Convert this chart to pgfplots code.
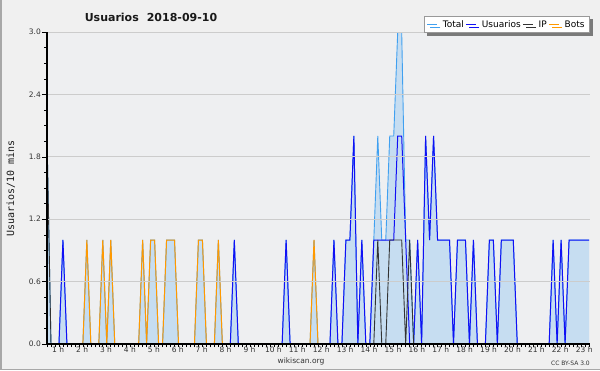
\documentclass[border=0pt]{standalone}
\usepackage{pgfplots}
\pgfplotsset{compat=1.18}
\usepackage{pgfplotstable}
\usepackage{fontspec}
\setmainfont{DejaVu Sans}
\newfontfamily\monofont{DejaVu Sans Mono}
\usetikzlibrary{shadows}
\definecolor{bgc}{HTML}{F0F0F0}
\definecolor{plotbg}{HTML}{EEEFF1}
\definecolor{framec}{HTML}{A8A8A8}
\definecolor{gridc}{HTML}{CCCCCC}
\definecolor{fillc}{HTML}{C6DDF1}
\definecolor{totc}{HTML}{40A0F0}
\definecolor{usrc}{HTML}{1010F5}
\definecolor{ipc}{HTML}{333333}
\definecolor{botc}{HTML}{FF9900}
\definecolor{tickc}{HTML}{333333}
\definecolor{legc}{HTML}{999999}
\definecolor{shadc}{HTML}{7A7A7A}

\pgfplotstableread{
i tot usr ip bots
0 2 0 2 0
1 0 0 0 0
2 0 0 0 0
3 0 0 0 0
4 1 1 0 0
5 0 0 0 0
6 0 0 0 0
7 0 0 0 0
8 0 0 0 0
9 0 0 0 0
10 1 0 0 1
11 0 0 0 0
12 0 0 0 0
13 0 0 0 0
14 1 0 0 1
15 0 0 0 0
16 1 0 0 1
17 0 0 0 0
18 0 0 0 0
19 0 0 0 0
20 0 0 0 0
21 0 0 0 0
22 0 0 0 0
23 0 0 0 0
24 1 0 0 1
25 0 0 0 0
26 1 0 0 1
27 1 0 0 1
28 0 0 0 0
29 0 0 0 0
30 1 0 0 1
31 1 0 0 1
32 1 0 0 1
33 0 0 0 0
34 0 0 0 0
35 0 0 0 0
36 0 0 0 0
37 0 0 0 0
38 1 0 0 1
39 1 0 0 1
40 0 0 0 0
41 0 0 0 0
42 0 0 0 0
43 1 0 0 1
44 0 0 0 0
45 0 0 0 0
46 0 0 0 0
47 1 1 0 0
48 0 0 0 0
49 0 0 0 0
50 0 0 0 0
51 0 0 0 0
52 0 0 0 0
53 0 0 0 0
54 0 0 0 0
55 0 0 0 0
56 0 0 0 0
57 0 0 0 0
58 0 0 0 0
59 0 0 0 0
60 1 1 0 0
61 0 0 0 0
62 0 0 0 0
63 0 0 0 0
64 0 0 0 0
65 0 0 0 0
66 0 0 0 0
67 1 0 0 1
68 0 0 0 0
69 0 0 0 0
70 0 0 0 0
71 0 0 0 0
72 1 1 0 0
73 0 0 0 0
74 0 0 0 0
75 1 1 0 0
76 1 1 0 0
77 2 2 0 0
78 0 0 0 0
79 1 1 0 0
80 0 0 0 0
81 0 0 0 0
82 1 1 0 0
83 2 1 1 0
84 1 1 0 0
85 1 1 0 0
86 2 1 1 0
87 2 1 1 0
88 3 2 1 0
89 3 2 1 0
90 1 1 0 0
91 1 0 1 0
92 0 0 0 0
93 1 1 0 0
94 0 0 0 0
95 2 2 0 0
96 1 1 0 0
97 2 2 0 0
98 1 1 0 0
99 1 1 0 0
100 1 1 0 0
101 1 1 0 0
102 0 0 0 0
103 1 1 0 0
104 1 1 0 0
105 1 1 0 0
106 0 0 0 0
107 1 1 0 0
108 0 0 0 0
109 0 0 0 0
110 0 0 0 0
111 1 1 0 0
112 1 1 0 0
113 0 0 0 0
114 1 1 0 0
115 1 1 0 0
116 1 1 0 0
117 1 1 0 0
118 0 0 0 0
119 0 0 0 0
120 0 0 0 0
121 0 0 0 0
122 0 0 0 0
123 0 0 0 0
124 0 0 0 0
125 0 0 0 0
126 0 0 0 0
127 1 1 0 0
128 0 0 0 0
129 1 1 0 0
130 0 0 0 0
131 1 1 0 0
132 1 1 0 0
133 1 1 0 0
134 1 1 0 0
135 1 1 0 0
136 1 1 0 0
}\data

\begin{document}
\begin{tikzpicture}[x=1pt,y=1pt]
\useasboundingbox (0,0) rectangle (600,370);
\fill[bgc] (0,0) rectangle (600,370);
\draw[framec, line width=1.5pt] (0.75,370) -- (0.75,0.75) -- (600,0.75);
\begin{axis}[
  at={(47pt,26pt)}, anchor=south west,
  scale only axis, width=543pt, height=312pt,
  xmin=0, xmax=136.25, ymin=0, ymax=3,
  axis on top,
  axis lines*=left,
  axis line style={black, line width=1.1pt},
  axis background/.style={fill=plotbg},
  tick align=outside,
  major tick length=5pt, minor tick length=3pt,
  tick style={black, line width=0.6pt},
  xtick={2.8,8.8,...,134.8},
  xticklabels={1 h,2 h,3 h,4 h,5 h,6 h,7 h,8 h,9 h,10 h,11 h,12 h,13 h,14 h,15 h,16 h,17 h,18 h,19 h,20 h,21 h,22 h,23 h},
  major x tick style={draw=none},
  minor xtick={0,...,136},
  ytick={0,0.6,1.2,1.8,2.4,3.0},
  minor y tick num=3,
  /pgf/number format/assume math mode=true,
  y tick label style={/pgf/number format/fixed, /pgf/number format/fixed zerofill, /pgf/number format/precision=1},
  ticklabel style={font=\fontsize{7.5}{8}\selectfont, text=tickc, inner sep=1pt},
  x tick label style={yshift=3.5pt},
  ymajorgrids,
  major grid style={gridc, line width=0.8pt},
  legend columns=4,
  legend style={at={(1,1)}, anchor=south east, yshift=-1.3pt,
    draw=legc, fill=white, line width=1pt,
    font=\fontsize{9}{10}\selectfont,
    inner xsep=3pt, inner ysep=2pt,
    drop shadow={shadow xshift=3pt, shadow yshift=-3pt, fill=shadc, opacity=1},
    /tikz/every odd column/.append style={column sep=3pt},
    /tikz/every even column/.append style={column sep=0pt}},
  legend cell align=left,
  legend image code/.code={\draw[#1, line width=0.9pt] (0pt,0pt) -- (10pt,0pt);},
]
\addplot[fill=fillc, draw=none, forget plot] table[x=i,y=tot]{\data} \closedcycle;
\addplot[totc, line width=0.9pt] table[x=i,y=tot]{\data};
\addlegendentry{Total}
\addplot[usrc, line width=1pt] table[x=i,y=usr]{\data};
\addlegendentry{Usuarios}
\addplot[ipc, line width=0.9pt] table[x=i,y=ip]{\data};
\addlegendentry{IP}
\addplot[botc, line width=1pt] table[x=i,y=bots]{\data};
\addlegendentry{Bots}
\end{axis}
\node[font=\bfseries\fontsize{11}{13}\selectfont, anchor=base, text=black!90] at (151,348.3) {Usuarios\hspace{8pt}2018-09-10};
\node[rotate=90, anchor=base, font=\monofont\fontsize{10}{12}\selectfont, text=black!90] at (14,181.5) {Usuarios/10 mins};
\node[anchor=base, font=\fontsize{7.5}{8}\selectfont, text=tickc] at (301,7) {wikiscan.org};
\node[anchor=base east, inner sep=0pt, font=\fontsize{6}{7}\selectfont, text=tickc] at (590,4.3) {CC BY-SA 3.0};
\end{tikzpicture}
\end{document}
